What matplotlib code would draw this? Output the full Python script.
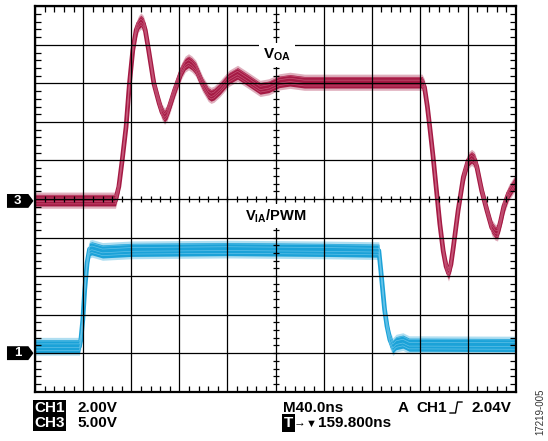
import matplotlib
matplotlib.use('Agg')
import matplotlib.pyplot as plt
import matplotlib.transforms as mtransforms
from matplotlib.lines import Line2D
from matplotlib.patches import Polygon
import numpy as np

plt.rcParams['font.family'] = ['Liberation Sans', 'DejaVu Sans']
plt.rcParams['mathtext.fontset'] = 'custom'
plt.rcParams['mathtext.rm'] = 'Liberation Sans'
plt.rcParams['mathtext.bf'] = 'Liberation Sans:bold'

# scope screen is 10 x 10 divisions; values read off in divisions
# CH3 (V_OA)
ch3_t = [0.0, 1.67, 1.74, 1.81, 1.89, 1.96, 2.03, 2.10, 2.15, 2.20, 2.25, 2.29, 2.36,
         2.47, 2.58, 2.64, 2.69, 2.74, 2.79, 2.90, 3.05, 3.12, 3.19, 3.26, 3.34, 3.48,
         3.60, 3.66, 3.72, 3.85, 4.03, 4.21, 4.43, 4.68, 4.86, 5.08, 5.30, 5.60, 8.05,
         8.10, 8.16, 8.21, 8.28, 8.35, 8.42, 8.49, 8.55, 8.60, 8.65, 8.70, 8.80, 8.91,
         9.01, 9.08, 9.14, 9.19, 9.29, 9.40, 9.50, 9.57, 9.62, 9.68, 9.75, 9.85, 10.0]
ch3_v = [4.97, 4.97, 5.32, 6.01, 6.87, 7.99, 8.86, 9.38, 9.55, 9.62, 9.55, 9.38, 8.86,
         7.99, 7.48, 7.25, 7.15, 7.22, 7.39, 7.82, 8.34, 8.50, 8.56, 8.50, 8.39, 7.99,
         7.74, 7.69, 7.72, 7.87, 8.13, 8.26, 8.08, 7.87, 7.91, 8.04, 8.08, 8.03, 8.03,
         7.90, 7.40, 6.87, 6.09, 5.22, 4.35, 3.65, 3.25, 3.08, 3.30, 3.74, 4.70, 5.57,
         6.00, 6.08, 6.02, 5.83, 5.22, 4.70, 4.26, 4.14, 4.12, 4.40, 4.80, 5.15, 5.45]

# CH1 (V_IA / PWM)
ch1_t = [0.0, 0.92, 0.95, 0.99, 1.03, 1.08, 1.13, 1.18, 1.40, 2.0, 4.0, 6.0, 7.15,
         7.19, 7.23, 7.27, 7.32, 7.38, 7.44, 7.51, 7.65, 7.78, 8.0, 10.0]
ch1_v = [1.18, 1.18, 1.35, 1.87, 2.65, 3.35, 3.70, 3.72, 3.64, 3.68, 3.70, 3.68, 3.66,
         3.17, 2.65, 2.13, 1.70, 1.35, 1.17, 1.26, 1.30, 1.22, 1.22, 1.21]

ch_names = ['3', '1']
ch_levels = [4.95, 1.0]

red = '#A51A44'
red_lt = '#CC6383'
blue = '#1BA2D8'
blue_lt = '#72C9EC'

fig = plt.figure(figsize=(5.48, 4.41), dpi=100)
ax = fig.add_axes([0.0643, 0.1118, 0.8769, 0.8739])
ax.set_xlim(0, 10)
ax.set_ylim(0, 10)


def trace(t, v, c, c_lt, half):
    t = np.array(t)
    v = np.array(v)
    ax.fill_between(t, v - half - 0.06, v + half + 0.06, color=c, alpha=0.35, lw=0, zorder=1)
    ax.fill_between(t, v - half, v + half, color=c, lw=0, zorder=1)
    ax.plot(t, v, color=c, lw=3.4, zorder=1, solid_joinstyle='round')
    for off in (-0.09, -0.03, 0.05, 0.11):
        ax.plot(t, v + off * half / 0.14, color=c_lt, lw=0.5, alpha=0.8, zorder=1)


trace(ch3_t, ch3_v, red, red_lt, 0.15)
trace(ch1_t, ch1_v, blue, blue_lt, 0.17)

# graticule
ax.set_xticks(np.arange(0, 11, 1))
ax.set_yticks(np.arange(0, 11, 1))
ax.set_xticks(np.arange(0, 10.01, 0.2), minor=True)
ax.set_yticks(np.arange(0, 10.01, 0.2), minor=True)
ax.grid(True, which='major', color='black', lw=0.9)
ax.set_axisbelow(False)
ax.tick_params(which='major', length=0, labelbottom=False, labelleft=False)
ax.tick_params(which='minor', length=4, width=0.9, direction='in',
               top=True, right=True, bottom=True, left=True)
for s in ax.spines.values():
    s.set_linewidth(1.6)

minor = np.arange(0.2, 10, 0.2)
ax.plot(np.full(len(minor), 5.0), minor, ls='none', marker='_', ms=5, mew=0.9,
        color='black', zorder=3)
ax.plot(minor, np.full(len(minor), 5.0), ls='none', marker='|', ms=5, mew=0.9,
        color='black', zorder=3)

# trace labels
ax.text(5.03, 8.74, r'$\mathbf{V_{OA}}$', fontsize=11, ha='center', va='center',
        zorder=4, bbox=dict(boxstyle='square,pad=0.25', fc='white', ec='none'))
ax.text(5.0, 4.56, r'$\mathbf{V_{IA}}$/PWM', fontsize=10.5, fontweight='bold',
        ha='center', va='center', zorder=4,
        bbox=dict(boxstyle='square,pad=0.2', fc='white', ec='none'))

# channel ground markers
btr = mtransforms.blended_transform_factory(ax.transAxes, ax.transData)
for name, lvl in zip(ch_names, ch_levels):
    pts = [(-0.0588, lvl - 0.18), (-0.0144, lvl - 0.18), (-0.0036, lvl),
           (-0.0144, lvl + 0.18), (-0.0588, lvl + 0.18)]
    ax.add_patch(Polygon(pts, closed=True, fc='black', ec='none', transform=btr,
                         clip_on=False))
    ax.text(-0.037, lvl, name, transform=btr, color='white', fontsize=9.5,
            fontweight='bold', ha='center', va='center')

# readout text (figure pixels -> fractions)
W, H = 548.0, 441.0


def ftext(x, y, s, **kw):
    fig.text(x / W, 1 - y / H, s, fontsize=11, fontweight='bold', ha='left',
             va='baseline', **kw)


box = dict(boxstyle='square,pad=0.08', fc='black', ec='none')
ftext(34, 412.5, 'CH1', color='white', bbox=box)
ftext(77, 412.5, '2.00V')
ftext(34, 427, 'CH3', color='white', bbox=box)
ftext(77, 427, '5.00V')
ftext(283, 412.5, 'M40.0ns')
ftext(398, 412.5, 'A')
ftext(416, 412.5, 'CH1')
ftext(471, 412.5, '2.04V')
ftext(284, 427, 'T', color='white', bbox=dict(boxstyle='square,pad=0.12', fc='black', ec='none'))
fig.text(294 / W, 1 - 425 / H, '\u2192', fontsize=8.5, ha='left', va='baseline')
fig.text(306 / W, 1 - 426.5 / H, '\u25bc', fontsize=8, ha='left', va='baseline')
ftext(318, 427, '159.800ns')

# rising-edge trigger symbol
ex = np.array([450, 455.5, 457.5, 462]) / W
ey = 1 - np.array([413, 413, 402, 402]) / H
fig.add_artist(Line2D(ex, ey, color='black', lw=1.0, transform=fig.transFigure))

fig.text(540 / W, 1 - 412 / H, '17219-005', rotation=90, fontsize=7, color='#333333',
         ha='center', va='center')

fig.savefig('out.png', dpi=100)
